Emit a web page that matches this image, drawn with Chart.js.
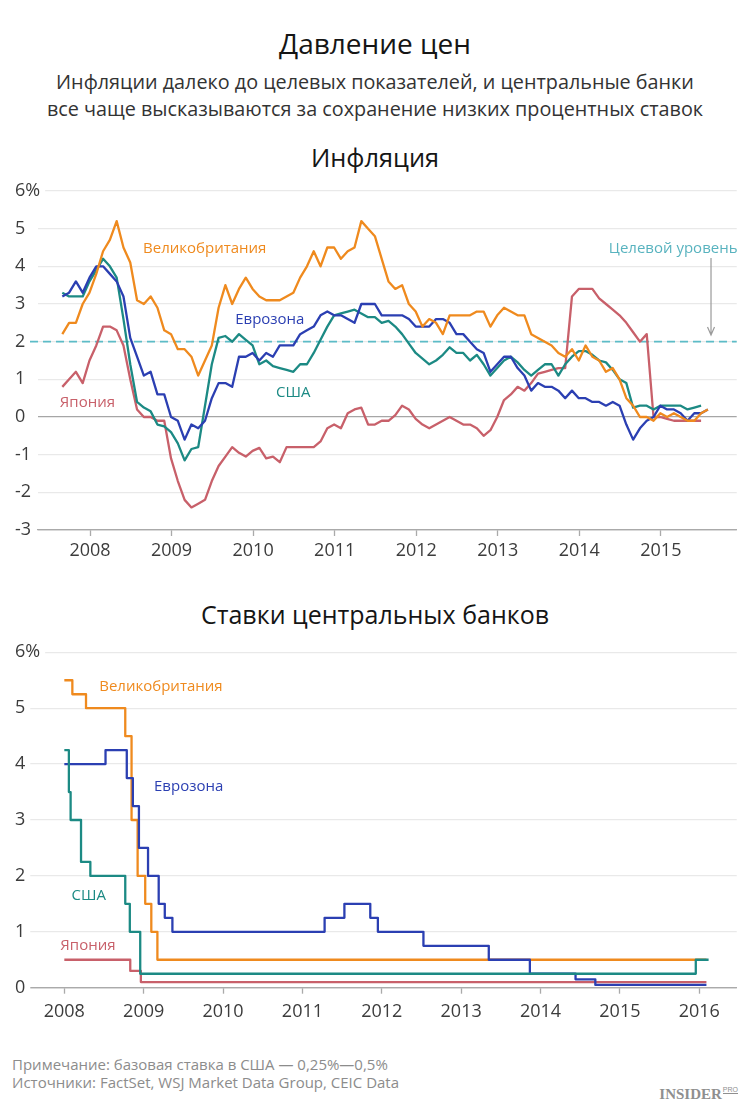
<!DOCTYPE html>
<html>
<head>
<meta charset="utf-8">
<script src="https://cdn.jsdelivr.net/npm/chart.js@4.4.1/dist/chart.umd.min.js"></script>
<style>
html,body{margin:0;padding:0;background:#fff;}
body{width:750px;height:1110px;position:relative;overflow:hidden;font-family:"Open Sans",sans-serif;}
.t{position:absolute;left:0;width:750px;text-align:center;white-space:nowrap;line-height:1;}
#title{top:29px;font-size:28px;color:#151515;}
#sub1{top:72px;font-size:19.8px;color:#333;}
#sub2{top:99px;font-size:19.8px;color:#333;}
#h1{top:145px;font-size:25.4px;color:#151515;}
#h2{top:602px;font-size:25px;color:#151515;}
.note{position:absolute;left:12px;font-size:15px;color:#8c8c8c;white-space:nowrap;line-height:1;}
#n1{top:1057px;}
#n2{top:1075px;}
#logo{position:absolute;right:12px;top:1086px;font-family:"Liberation Serif",serif;font-weight:bold;font-size:15px;color:#8f8f8f;white-space:nowrap;line-height:1;}
#logo span{font-family:"Liberation Sans",sans-serif;font-weight:normal;font-size:7px;border-bottom:1px solid #8f8f8f;vertical-align:7px;margin-left:1px;}
canvas{position:absolute;left:0;}
#c1{top:170px;}
#c2{top:630px;}
</style>
</head>
<body>
<div class="t" id="title">Давление цен</div>
<div class="t" id="sub1">Инфляции далеко до целевых показателей, и центральные банки</div>
<div class="t" id="sub2">все чаще высказываются за сохранение низких процентных ставок</div>
<div class="t" id="h1">Инфляция</div>
<div class="t" id="h2">Ставки центральных банков</div>
<canvas id="c1" width="750" height="400"></canvas>
<canvas id="c2" width="750" height="400"></canvas>
<div class="note" id="n1">Примечание: базовая ставка в США — 0,25%—0,5%</div>
<div class="note" id="n2">Источники: FactSet, WSJ Market Data Group, CEIC Data</div>
<div id="logo">INSIDER<span>PRO</span></div>
<script>
// ---------- Inflation, monthly, first point Jan 2008 ----------
const inflStart = 2007.66;          // axis position of the first monthly point
const inflYears = [2008, 2009, 2010, 2011, 2012, 2013, 2014, 2015];
const inflTicks = [-3, -2, -1, 0, 1, 2, 3, 4, 5, 6];
const inflTarget = 2;

const ukInfl = [
  2.2, 2.5, 2.5, 3.0, 3.3, 3.8, 4.4, 4.7, 5.2, 4.5, 4.1, 3.1,
  3.0, 3.2, 2.9, 2.3, 2.2, 1.8, 1.8, 1.6, 1.1, 1.5, 1.9, 2.9,
  3.5, 3.0, 3.4, 3.7, 3.4, 3.2, 3.1, 3.1, 3.1, 3.2, 3.3, 3.7,
  4.0, 4.4, 4.0, 4.5, 4.5, 4.2, 4.4, 4.5, 5.2, 5.0, 4.8, 4.2,
  3.6, 3.4, 3.5, 3.0, 2.8, 2.4, 2.6, 2.5, 2.2, 2.7, 2.7, 2.7,
  2.7, 2.8, 2.8, 2.4, 2.7, 2.9, 2.8, 2.7, 2.7, 2.2, 2.1, 2.0,
  1.9, 1.7, 1.6, 1.8, 1.5, 1.9, 1.6, 1.5, 1.2, 1.3, 1.0, 0.5,
  0.3, 0.0, 0.0, -0.1, 0.1, 0.0, 0.1, 0.0, -0.1, -0.1, 0.1, 0.2
];
const euInfl = [
  3.2, 3.3, 3.6, 3.3, 3.7, 4.0, 4.0, 3.8, 3.6, 3.2, 2.1, 1.6,
  1.1, 1.2, 0.6, 0.6, 0.0, -0.1, -0.6, -0.2, -0.3, -0.1, 0.5, 0.9,
  0.9, 0.8, 1.6, 1.6, 1.7, 1.5, 1.7, 1.6, 1.9, 1.9, 1.9, 2.2,
  2.3, 2.4, 2.7, 2.8, 2.7, 2.7, 2.6, 2.5, 3.0, 3.0, 3.0, 2.7,
  2.7, 2.7, 2.7, 2.6, 2.4, 2.4, 2.4, 2.6, 2.6, 2.5, 2.2, 2.2,
  2.0, 1.8, 1.7, 1.2, 1.4, 1.6, 1.6, 1.3, 1.1, 0.7, 0.9, 0.8,
  0.8, 0.7, 0.5, 0.7, 0.5, 0.5, 0.4, 0.4, 0.3, 0.4, 0.3, -0.2,
  -0.6, -0.3, -0.1, 0.0, 0.3, 0.2, 0.2, 0.1, -0.1, 0.1, 0.1, 0.2
];
const usInfl = [
  3.3, 3.2, 3.2, 3.2, 3.6, 3.9, 4.2, 4.0, 3.7, 2.6, 1.4, 0.4,
  0.25, 0.15, -0.2, -0.25, -0.4, -0.7, -1.15, -0.85, -0.8, 0.3, 1.4, 2.1,
  2.15, 2.0, 2.2, 2.05, 1.9, 1.4, 1.5, 1.35, 1.3, 1.25, 1.2, 1.4,
  1.4, 1.7, 2.05, 2.4, 2.7, 2.75, 2.8, 2.85, 2.75, 2.65, 2.65, 2.5,
  2.55, 2.4, 2.2, 1.95, 1.7, 1.55, 1.4, 1.5, 1.65, 1.85, 1.7, 1.7,
  1.5, 1.65, 1.4, 1.1, 1.3, 1.5, 1.6, 1.45, 1.25, 1.1, 1.25, 1.4,
  1.4, 1.1, 1.4, 1.6, 1.75, 1.75, 1.65, 1.5, 1.45, 1.25, 1.0, 0.9,
  0.25, 0.3, 0.3, 0.2, 0.3, 0.3, 0.3, 0.3, 0.2, 0.25, 0.3
];
const jpInfl = [
  0.8, 1.0, 1.2, 0.9, 1.5, 1.9, 2.4, 2.4, 2.3, 1.9, 1.0, 0.2,
  0.0, 0.0, -0.1, -0.1, -1.1, -1.7, -2.2, -2.4, -2.3, -2.2, -1.7, -1.3,
  -1.05, -0.8, -0.95, -1.05, -0.9, -0.82, -1.1, -1.05, -1.2, -0.8, -0.8, -0.8,
  -0.8, -0.8, -0.65, -0.3, -0.2, -0.3, 0.1, 0.2, 0.25, -0.2, -0.2, -0.1,
  -0.1, 0.05, 0.3, 0.2, -0.05, -0.2, -0.3, -0.2, -0.1, 0.0, -0.1, -0.2,
  -0.2, -0.3, -0.5, -0.35, 0.0, 0.45, 0.6, 0.8, 0.7, 0.9, 1.15, 1.2,
  1.25, 1.3, 1.3, 3.2, 3.4, 3.4, 3.4, 3.15, 3.0, 2.85, 2.7, 2.5,
  2.25, 2.0, 2.2, 0.0, 0.0, -0.05, -0.1, -0.1, -0.1, -0.1, -0.1
];

// ---------- Central bank rates (change dates and new rates) ----------
const rateYears = [2008, 2009, 2010, 2011, 2012, 2013, 2014, 2015, 2016];
const rateTicks = [0, 1, 2, 3, 4, 5, 6];
const ukDates = ['2008-01-01','2008-02-07','2008-04-10','2008-10-08','2008-11-06','2008-12-04','2009-01-08','2009-02-05','2009-03-05','2016-02-03'];
const ukRates = [5.5, 5.25, 5.0, 4.5, 3.0, 2.0, 1.5, 1.0, 0.5, 0.5];
const euDates = ['2008-01-01','2008-07-09','2008-10-15','2008-11-12','2008-12-10','2009-01-21','2009-03-11','2009-04-08','2009-05-13','2011-04-13','2011-07-13','2011-11-09','2011-12-14','2012-07-11','2013-05-08','2013-11-13','2014-06-11','2014-09-10','2016-02-03'];
const euRates = [4.0, 4.25, 3.75, 3.25, 2.5, 2.0, 1.5, 1.25, 1.0, 1.25, 1.5, 1.25, 1.0, 0.75, 0.5, 0.25, 0.15, 0.05, 0.05];
const usDates = ['2008-01-01','2008-01-22','2008-01-30','2008-03-18','2008-04-30','2008-10-08','2008-10-29','2008-12-16','2015-12-16','2016-02-13'];
const usRates = [4.25, 3.5, 3.0, 2.25, 2.0, 1.5, 1.0, 0.25, 0.5, 0.5];
const jpDates = ['2008-01-01','2008-10-31','2008-12-19','2016-02-03'];
const jpRates = [0.5, 0.3, 0.1, 0.1];

// ---------- styles ----------
const C = {uk:'#ef8a1e', eu:'#2b3fb2', us:'#1c8a84', jp:'#c8606a', target:'#5cbcc7', targetText:'#58b3bf', arrow:'#9a9a9a'};
const FONT = '"Open Sans", sans-serif';

const inflLabels = [
  {text:'Великобритания', x:2008.65, y:4.46, color:C.uk},
  {text:'Еврозона', x:2009.78, y:2.57, color:C.eu},
  {text:'США', x:2010.28, y:0.64, color:C.us},
  {text:'Япония', x:2007.63, y:0.37, color:C.jp},
  {text:'Целевой уровень', x:2015.94, y:4.46, color:C.targetText, align:'right'}
];
const rateLabels = [
  {text:'Великобритания', x:2008.44, y:5.39, color:C.uk},
  {text:'Еврозона', x:2009.13, y:3.60, color:C.eu},
  {text:'США', x:2008.09, y:1.64, color:C.us},
  {text:'Япония', x:2007.95, y:0.745, color:C.jp}
];

Chart.defaults.font.family = FONT;

function monthly(arr){ return arr.map((v,i)=>({x: inflStart + i/12, y: v})); }
function decYear(s){
  const [y,m,d] = s.split('-').map(Number);
  const a = Date.UTC(y,0,1), b = Date.UTC(y+1,0,1);
  return y + (Date.UTC(y,m-1,d) - a)/(b - a);
}
function steps(dates, rates){ return dates.map((d,i)=>({x: decYear(d), y: rates[i]})); }

const labelPlugin = {
  id:'seriesLabels',
  afterDatasetsDraw(chart, args, opts){
    const {ctx, scales:{x, y}} = chart;
    ctx.save();
    (opts.items||[]).forEach(l=>{
      ctx.font = '15px ' + FONT;
      ctx.fillStyle = l.color;
      ctx.textAlign = l.align || 'left';
      ctx.textBaseline = 'middle';
      ctx.fillText(l.text, x.getPixelForValue(l.x), y.getPixelForValue(l.y));
    });
    ctx.restore();
  }
};
const targetPlugin = {
  id:'targetLine',
  beforeDatasetsDraw(chart, args, o){
    if (o.value === undefined) return;
    const {ctx, chartArea, scales:{x, y}} = chart;
    const py = y.getPixelForValue(o.value);
    ctx.save();
    ctx.strokeStyle = C.target; ctx.lineWidth = 1.6; ctx.setLineDash([8,5]);
    ctx.beginPath(); ctx.moveTo(30, py); ctx.lineTo(chartArea.right, py); ctx.stroke();
    ctx.setLineDash([]);
    const ax = x.getPixelForValue(o.arrowX);
    const y0 = y.getPixelForValue(o.arrowFrom), y1 = y.getPixelForValue(o.arrowTo);
    ctx.strokeStyle = C.arrow; ctx.lineWidth = 1.2;
    ctx.beginPath(); ctx.moveTo(ax, y0); ctx.lineTo(ax, y1);
    ctx.moveTo(ax-3.5, y1-8); ctx.lineTo(ax, y1); ctx.lineTo(ax+3.5, y1-8);
    ctx.stroke();
    ctx.restore();
  }
};

function lineDs(label, data, color, order, stepped){
  return {label, data, borderColor:color, backgroundColor:color, borderWidth:2.3, pointRadius:0,
          tension:0, stepped: stepped||false, order, borderJoinStyle:'round', fill:false};
}

function makeOptions(cfg){
  return {
    responsive:false, animation:false, events:[],
    layout:{padding:{left:15, right:13.3, top:cfg.padTop, bottom:0}},
    plugins:{legend:{display:false}, tooltip:{enabled:false},
             seriesLabels:{items:cfg.labels}, targetLine:cfg.target || {}},
    scales:{
      x:{type:'linear', min:cfg.xmin, max:cfg.xmax,
         afterBuildTicks: s => { s.ticks = cfg.years.map(v=>({value:v})); },
         afterFit: s => { s.height = cfg.xHeight; },
         ticks:{autoSkip:false, maxRotation:0, padding:cfg.xPad, color:'#3c3c3c', font:{size:18}, callback:v=>String(v)},
         grid:{drawOnChartArea:false, drawTicks:true, tickLength:6, tickColor:'#aaa', tickWidth:1.3},
         border:{display:true, color:'#aaa', width:1.3}},
      y:{min:cfg.ymin, max:cfg.ymax,
         afterBuildTicks: s => { s.ticks = cfg.yticks.map(v=>({value:v})); },
         afterFit: s => { s.width = cfg.yWidth; },
         ticks:{mirror:true, crossAlign:'near', padding:-cfg.yWidth, color:'#3c3c3c', font:{size:18},
                callback:v=> v===cfg.ymax ? v+'%' : String(v),
                showLabelBackdrop:true, backdropColor:'#fff',
                backdropPadding:{top:0, bottom:0, left:0, right:5}},
         grid:{drawTicks:false, lineWidth:1.3,
               color: c => (c.tick && (c.tick.value===0 || c.tick.value===cfg.ymin)) ? '#a6a6a6' : '#e9e9e9'},
         border:{display:false}}
    }
  };
}

new Chart(document.getElementById('c1'), {
  type:'line',
  data:{datasets:[
    lineDs('Великобритания', monthly(ukInfl), C.uk, 0),
    lineDs('Еврозона', monthly(euInfl), C.eu, 1),
    lineDs('США', monthly(usInfl), C.us, 2),
    lineDs('Япония', monthly(jpInfl), C.jp, 3)
  ]},
  options: makeOptions({xmin:2007.362, xmax:2015.93, years:inflYears, ymin:-3, ymax:6, yticks:inflTicks,
    padTop:21, xHeight:40, xPad:4, yWidth:23, labels:inflLabels,
    target:{value:inflTarget, arrowX:2015.615, arrowFrom:4.22, arrowTo:2.18}}),
  plugins:[targetPlugin, labelPlugin]
});

new Chart(document.getElementById('c2'), {
  type:'line',
  data:{datasets:[
    lineDs('США', steps(usDates, usRates), C.us, 0, true),
    lineDs('Еврозона', steps(euDates, euRates), C.eu, 1, true),
    lineDs('Великобритания', steps(ukDates, ukRates), C.uk, 2, true),
    lineDs('Япония', steps(jpDates, jpRates), C.jp, 3, true)
  ]},
  options: makeOptions({xmin:2007.5675, xmax:2016.4716, years:rateYears, ymin:0, ymax:6, yticks:rateTicks,
    padTop:22.3, xHeight:42.3, xPad:7, yWidth:15, labels:rateLabels}),
  plugins:[labelPlugin]
});
</script>
</body>
</html>
